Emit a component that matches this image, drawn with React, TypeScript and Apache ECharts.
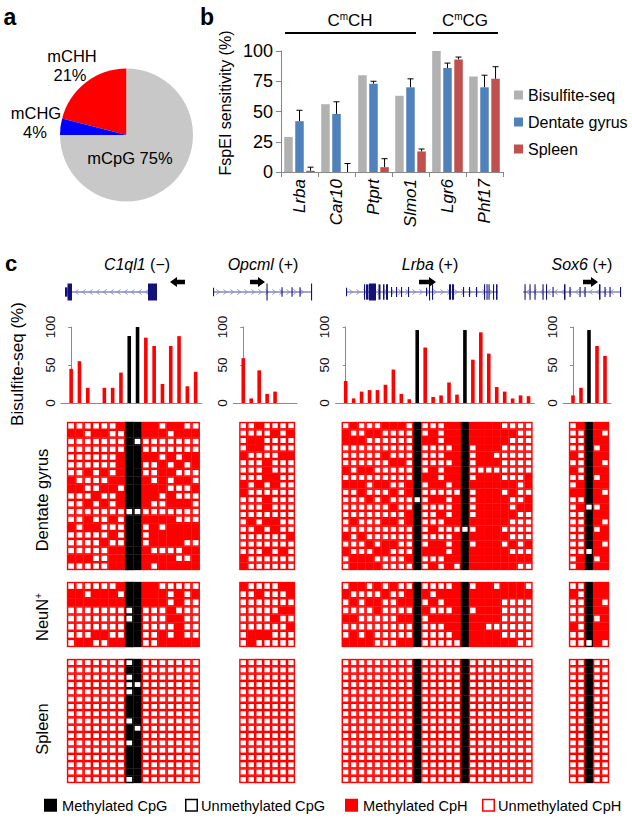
import React, { useEffect, useRef } from 'react';
import * as echarts from 'echarts';

const FONT = '"Liberation Sans", Arial, Helvetica, sans-serif';

// ---------- Panel a: pie ----------
const pieNames = ['mCHH', 'mCHG', 'mCpG'];
const pieValues = [21, 4, 75];
const pieColors = ['#ff0000', '#0000ff', '#c8c8c8'];

// ---------- Panel b: FspEI sensitivity ----------
const bCategories = ['Lrba', 'Car10', 'Ptprt', 'Slmo1', 'Lgr6', 'Phf17'];
const bSeriesNames = ['Bisulfite-seq', 'Dentate gyrus', 'Spleen'];
const bisulfiteSeq = [29, 56, 80, 63, 100, 79];
const dentateGyrus = [42, 48, 73, 70, 86, 70];
const dentateErr = [9, 10, 2, 7, 4, 10];
const spleenB = [1, 0, 4, 17, 93, 77];
const spleenErr = [3, 7, 7, 2, 2, 10];
const bColors = ['#b1b1b1', '#4f81bd', '#c0504d'];
const bTickMax = 100;
const bTickStep = 25;

// ---------- Panel c ----------
const geneNames = ['C1ql1', 'Opcml', 'Lrba', 'Sox6'];
const geneStrands = ['−', '+', '+', '+'];
const bsC1ql1 = [45, 55, 20, 0, 20, 20, 40, 88, 100, 86, 75, 25, 75, 88, 22, 41];
const bsOpcml = [59, 6, 43, 12, 15, 0, 0];
const bsLrba = [29, 6, 15, 17, 17, 24, 44, 12, 5, 96, 73, 8, 10, 27, 11, 96, 57, 93, 65, 21, 15, 6, 10, 9];
const bsSox6 = [10, 20, 96, 75, 62];
const bsTicks = [0, 50, 100];

// gene models: [start, end, relative height] in track units; direction of chevrons
const exonsC1ql1 = [[0, 2.5, 0.55], [2.5, 7, 1], [83, 92, 1]];
const exonsOpcml = [[0, 0.8, 0.5], [53.5, 54.5, 1], [68.5, 69.3, 0.55], [78.5, 79.3, 0.55], [86.5, 87.3, 0.55], [98, 99, 1]];
const exonsLrba = [[0, 0.8, 0.5], [18, 19, 0.9], [20, 22.5, 0.9], [23, 30, 1], [32.5, 34.5, 0.9], [37, 38.5, 0.9], [40, 42, 0.9], [45, 46, 0.6], [50, 51, 0.6], [55, 56, 0.6], [62, 63, 0.6], [80, 81, 0.5], [83, 84, 1], [86, 87, 0.9], [103, 105, 0.9], [106, 108, 0.9], [117, 118, 0.6], [123, 124, 0.6], [130, 131, 0.6], [138, 139, 0.9], [140.5, 141.5, 0.9], [142.5, 143.5, 0.9], [147, 148, 0.9], [150, 151.5, 0.9]];
const exonsSox6 = [[1.5, 2.5, 0.9], [6.5, 7.5, 0.9], [11.5, 12.5, 0.9], [19.5, 20.5, 0.9], [23, 24, 0.9], [29.5, 30.5, 0.6], [41, 42.5, 0.9], [46.5, 47.5, 0.6], [56.5, 57.5, 0.6], [61.5, 62.5, 0.6], [76, 77.5, 0.9], [81.5, 82.5, 0.6], [86.5, 87.5, 0.6], [97, 98, 0.6]];
const chevronDir = [-1, 1, 1, -1];
const arrowDir = [-1, 1, 1, 1];

// Clone matrices: 0 unmethylated CpH, 1 methylated CpH, b unmethylated CpG, B methylated CpG
const dgC1ql1 = [
  '0000001BB1101100',
  '1101100BB1110111',
  '0000000Bb0000000',
  '0000000BB0000000',
  '0000001BB1101011',
  '0000001BB0010101',
  '0010101BB0011000',
  '1000011BB1010110',
  '1100110BB1110001',
  '0001001BB1101000',
  '0010101BB1001110',
  '0000000bb0000000',
  '0010010BB1111000',
  '1011000BB0101111',
  '0000010BB0111111',
  '0000100BB0111100',
  '0000011BB1000011',
  '1110011BB1111001',
  '0000011BB1011111',
];
const dgOpcml = [
  '0010000', '0000101', '0110000', '0110000', '1000011', '0001000', '0001000', '0001100', '1010100', '1000000',
  '0001000', '0001000', '0000000', '0101100', '0010100', '0000001', '0000000', '0001010', '1000000', '1000000',
];
const dgLrba = [
  '010001110B00011B11110000',
  '100110000B01011B11111100',
  '111000000B11011B11111000',
  '000000000B00001B01110000',
  '000001000B00011B01100000',
  '000000110B00001B01110000',
  '101100000B01011B00000000',
  '000000000B11011B01110001',
  '111011001B01101B11111101',
  '001000101B00000B01110100',
  '000101000b01101B01111001',
  '000000100B00001B01111011',
  '000000001B00101B01111100',
  '010001101B00011B11111000',
  '000000000B01000b01110000',
  '101000000B00001B11111000',
  '000101100B01101B01110101',
  '100011000B11101B11111000',
  '011100001B00011B11111111',
  '011110000B01010B11111100',
];
const dgSox6 = [
  '01B11', '00B10', '00B11', '00B01', '10B11', '00B10', '10B11', '00B01', '01B11', '11B10',
  '00B11', '01b01', '00B11', '00B10', '00B01', '00B11', '00B10', '00b11', '01B01', '01B11',
];
const nnC1ql1 = [
  '0000001BB1100000',
  '1101110BB1110101',
  '1111111BB1110100',
  '0000000bB0001000',
  '0000000bB0001100',
  '0000000BB0000100',
  '0001100BB0010100',
  '0110011BB0011111',
];
const nnOpcml = ['1000011', '0010001', '0000000', '0000011', '0000100', '0000001', '0111000', '0100000'];
const nnLrba = [
  '011010100B00001B01101110',
  '100001001B10111B11111111',
  '010110011B01011B11110000',
  '000010000B10001B01110000',
  '110000011B01111B11110000',
  '000000000B00011B11000000',
  '010100000B00001B11110000',
  '111100011B00000B11111100',
];
const nnSox6 = ['00B11', '10B11', '00B10', '00B11', '00B01', '10B11', '00B11', '00b10'];
const spC1ql1 = [
  '0000000bB0000000', '0000000BB0000000', '0000000bB0000000', '0000000bb0000000', '0000000bB0000000',
  '0000000BB0000000', '0000000BB0000000', '0000000BB0000000', '0000000bB0000000', '0000000Bb0000000',
  '0000000BB0000000', '0000000bB0000000', '0000000BB0000000', '0000000BB0000000', '0000000BB0000000',
  '0000000BB0000000', '0000000bB0000000',
];
const spOpcml = [
  '0000000', '0000000', '0000000', '0000000', '0000000', '0000000', '0000000', '0000000', '0000000',
  '0000000', '0000000', '0000000', '0000000', '0000000', '0000000', '0000000', '0000000',
];
const spLrba = [
  '000000000B00000B00000000', '000000000B00000B00000000', '000000000B00000B00000000', '000000000B00000B00000000',
  '000000000B00000B00000000', '000000000B00000B00000000', '000000000B00000B00000000', '000000000B00000B00000000',
  '000000000B00000B00000000', '000000000B00000B00000000', '000000000B00000B00000000', '000000000B00000B00000000',
  '000000000B00000B00000000', '000000000B00000B00000000', '000000000B00000B00000000', '000000000B00000B00000000',
  '000000000B00000B00000000',
];
const spSox6 = [
  '00B00', '00B00', '00B00', '00B00', '00B00', '00B00', '00B00', '00B00', '00B00',
  '00B00', '00B00', '00B00', '00B00', '00B00', '00B00', '00B00', '00B00',
];

const legendCNames = ['Methylated CpG', 'Unmethylated CpG', 'Methylated CpH', 'Unmethylated CpH'];

// ---------- Layout (pixels) ----------
const L = {
  pie: { cx: 126.5, cy: 135, r: 66.5 },
  b: { left: 281, top: 51, width: 222, height: 121 },
  genes: [
    { gx: 67, w: 8.3, track: 65, len: 92, arrow: [170, 185], name: 137 },
    { gx: 239.3, w: 7.95, track: 213, len: 99, arrow: [250, 265], name: 263 },
    { gx: 341.7, w: 7.95, track: 346, len: 152, arrow: [419, 436], name: 430 },
    { gx: 569, w: 8.0, track: 523, len: 98, arrow: [583, 598], name: 582 },
  ],
  trackY: 292,
  arrowY: 282,
  bs: { top: 327, height: 76 },
  tissues: [
    { top: 422, bottom: 570 },
    { top: 582, bottom: 647 },
    { top: 659, bottom: 783 },
  ],
};

const bsData = [bsC1ql1, bsOpcml, bsLrba, bsSox6];
const matrices = [
  [dgC1ql1, dgOpcml, dgLrba, dgSox6],
  [nnC1ql1, nnOpcml, nnLrba, nnSox6],
  [spC1ql1, spOpcml, spLrba, spSox6],
];
const exonSets = [exonsC1ql1, exonsOpcml, exonsLrba, exonsSox6];

function matrixToData(rows: string[]) {
  const out: number[][] = [];
  rows.forEach((r, ri) => {
    r.split('').forEach((ch, ci) => {
      const st = ch === '1' ? 1 : ch === 'b' ? 2 : ch === 'B' ? 3 : 0;
      out.push([ci, ri, st]);
    });
  });
  return out;
}

function cellRender(_p: any, api: any) {
  const col = api.value(0);
  const row = api.value(1);
  const st = api.value(2);
  const c = api.coord([col, row]);
  const s = api.size([1, 1]);
  const w = s[0];
  const h = s[1];
  const x = c[0] - w / 2;
  const y = c[1] - h / 2;
  const edge = st >= 2 ? '#000000' : '#ff0000';
  const children: any[] = [
    { type: 'rect', shape: { x: x - 0.15, y: y - 0.15, width: w + 0.3, height: h + 0.3 }, style: { fill: edge } },
  ];
  if (st === 0 || st === 2) {
    const ix = 1.3;
    const iy = 1.25;
    children.push({ type: 'rect', shape: { x: x + ix, y: y + iy, width: w - 2 * ix, height: h - 2 * iy }, style: { fill: '#ffffff' } });
  }
  return { type: 'group', children };
}

function buildOption() {
  const grids: any[] = [];
  const xAxes: any[] = [];
  const yAxes: any[] = [];
  const series: any[] = [];
  const graphics: any[] = [];

  const addGrid = (g: any, x: any, y: any) => {
    const idx = grids.length;
    grids.push({ ...g, outerBoundsMode: 'none', containLabel: false });
    xAxes.push({ ...x, gridIndex: idx });
    yAxes.push({ ...y, gridIndex: idx });
    return idx;
  };
  const hiddenAxis = (min: number, max: number, inverse = false) => ({
    type: 'value', min, max, inverse, show: false, splitLine: { show: false },
  });

  // Pie
  series.push({
    type: 'pie',
    center: [L.pie.cx, L.pie.cy],
    radius: L.pie.r,
    startAngle: 90,
    clockwise: false,
    silent: true,
    label: { show: false },
    labelLine: { show: false },
    itemStyle: { borderWidth: 0 },
    emphasis: { disabled: true },
    data: pieNames.map((n, i) => ({ name: n, value: pieValues[i], itemStyle: { color: pieColors[i] } })),
  });

  // Panel b
  const bi = addGrid(
    { left: L.b.left, top: L.b.top, width: L.b.width, height: L.b.height },
    {
      type: 'category', data: bCategories,
      axisLine: { show: true, lineStyle: { color: '#868686', width: 1 } },
      axisTick: { show: true, length: 5, lineStyle: { color: '#868686' } },
      axisLabel: { rotate: 90, fontStyle: 'italic', fontSize: 17, color: '#000', fontFamily: FONT, margin: 7 },
    },
    {
      type: 'value', min: 0, max: bTickMax, interval: bTickStep,
      axisLine: { show: true, lineStyle: { color: '#868686', width: 1 } },
      axisTick: { show: true, length: 5, lineStyle: { color: '#868686' } },
      axisLabel: { fontSize: 18, color: '#000', fontFamily: FONT, margin: 8 },
      splitLine: { show: false },
    },
  );
  [bisulfiteSeq, dentateGyrus, spleenB].forEach((vals, k) => {
    series.push({
      type: 'bar', name: bSeriesNames[k], xAxisIndex: bi, yAxisIndex: bi,
      data: vals, barWidth: 8.5, barGap: '30%', itemStyle: { color: bColors[k] }, silent: true,
    });
  });
  const barStep = 8.5 * 1.3;
  [[dentateGyrus, dentateErr, 0], [spleenB, spleenErr, barStep]].forEach(([vals, errs, off]: any) => {
    series.push({
      type: 'custom', xAxisIndex: bi, yAxisIndex: bi, silent: true, clip: false,
      data: vals.map((v: number, i: number) => [i, v, errs[i]]),
      renderItem: (_p: any, api: any) => {
        const base = api.coord([api.value(0), api.value(1)]);
        const top = api.coord([api.value(0), api.value(1) + api.value(2)]);
        const x = base[0] + off;
        return {
          type: 'group',
          children: [
            { type: 'line', shape: { x1: x, y1: base[1], x2: x, y2: top[1] }, style: { stroke: '#000', lineWidth: 1 } },
            { type: 'line', shape: { x1: x - 3, y1: top[1], x2: x + 3, y2: top[1] }, style: { stroke: '#000', lineWidth: 1 } },
          ],
        };
      },
    });
  });

  // Panel c: gene tracks, bisulfite bars and matrices
  L.genes.forEach((g, gi) => {
    // gene track
    const ti = addGrid(
      { left: g.track, top: L.trackY - 10, width: g.len, height: 20 },
      hiddenAxis(0, g.len),
      hiddenAxis(-1, 1),
    );
    const dir = chevronDir[gi];
    series.push({
      type: 'custom', xAxisIndex: ti, yAxisIndex: ti, silent: true, clip: false,
      data: [[0, g.len]],
      renderItem: (_p: any, api: any) => {
        const a = api.coord([api.value(0), 0]);
        const b = api.coord([api.value(1), 0]);
        const children: any[] = [
          { type: 'line', shape: { x1: a[0], y1: a[1], x2: b[0], y2: b[1] }, style: { stroke: '#4a4aa8', lineWidth: 1 } },
        ];
        for (let x = a[0] + 5; x < b[0] - 3; x += 7) {
          children.push({
            type: 'polyline',
            shape: { points: [[x - 1.6 * dir, a[1] - 2.6], [x + 1.6 * dir, a[1]], [x - 1.6 * dir, a[1] + 2.6]] },
            style: { stroke: '#8585cc', lineWidth: 0.9, fill: 'none' },
          });
        }
        return { type: 'group', children };
      },
    });
    series.push({
      type: 'custom', xAxisIndex: ti, yAxisIndex: ti, silent: true, clip: false,
      data: exonSets[gi],
      renderItem: (_p: any, api: any) => {
        const a = api.coord([api.value(0), 0]);
        const b = api.coord([api.value(1), 0]);
        const hh = 8.5 * api.value(2);
        return {
          type: 'rect',
          shape: { x: a[0], y: a[1] - hh, width: Math.max(1.1, b[0] - a[0]), height: hh * 2 },
          style: { fill: '#12127a' },
        };
      },
    });

    // bisulfite bars
    const vals = bsData[gi];
    const n = vals.length;
    const padL = 6;
    const padR = 2;
    const bsi = addGrid(
      { left: g.gx - padL, top: L.bs.top, width: n * g.w + padL + padR, height: L.bs.height },
      {
        type: 'value', min: -0.5 - padL / g.w, max: n - 0.5 + padR / g.w, show: true,
        axisLine: { show: true, onZero: false, lineStyle: { color: '#8c8c8c', width: 1 } },
        axisTick: { show: false }, axisLabel: { show: false }, splitLine: { show: false },
      },
      {
        type: 'value', min: 0, max: 100, interval: 50,
        axisLine: { show: true, lineStyle: { color: '#8c8c8c', width: 1 } },
        axisTick: { show: true, length: 3, lineStyle: { color: '#8c8c8c' } },
        axisLabel: { rotate: 90, fontSize: 13.5, color: '#111', fontFamily: FONT, margin: 4, customValues: bsTicks },
        splitLine: { show: false },
      },
    );
    const cpgCols = matrices[0][gi][0].split('').map((ch) => ch === 'B' || ch === 'b');
    series.push({
      type: 'bar', xAxisIndex: bsi, yAxisIndex: bsi, silent: true, barWidth: 3.6,
      data: vals.map((v, i) => ({ value: [i, v], itemStyle: { color: cpgCols[i] ? '#000000' : '#ff0000' } })),
    });

    // matrices
    L.tissues.forEach((t, k) => {
      const rows = matrices[k][gi];
      const nr = rows.length;
      const nc = rows[0].length;
      const mi = addGrid(
        { left: g.gx, top: t.top, width: nc * g.w, height: t.bottom - t.top },
        hiddenAxis(-0.5, nc - 0.5),
        hiddenAxis(-0.5, nr - 0.5, true),
      );
      series.push({
        type: 'custom', xAxisIndex: mi, yAxisIndex: mi, silent: true, clip: false,
        data: matrixToData(rows), renderItem: cellRender,
      });
    });

    // gene name
    graphics.push({
      type: 'text', x: g.name, y: 264, z: 100,
      style: {
        text: `{i|${geneNames[gi]}} (${geneStrands[gi]})`,
        rich: { i: { fontStyle: 'italic', fontSize: 16, fontFamily: FONT, fill: '#000' } },
        fontSize: 16, fontFamily: FONT, fill: '#000',
        align: 'center', verticalAlign: 'middle', textAlign: 'center', textVerticalAlign: 'middle',
      },
    });
    // direction arrow
    const [ax0, ax1] = g.arrow;
    const d = arrowDir[gi];
    const tip = d > 0 ? ax1 : ax0;
    const tail = d > 0 ? ax0 : ax1;
    const neck = tip - d * 7;
    const y0 = L.arrowY;
    graphics.push({
      type: 'polygon', z: 100,
      shape: { points: [[tail, y0 - 2.2], [neck, y0 - 2.2], [neck, y0 - 5], [tip, y0], [neck, y0 + 5], [neck, y0 + 2.2], [tail, y0 + 2.2]] },
      style: { fill: '#000' },
    });
  });

  const txt = (text: string, x: number, y: number, size: number, extra: any = {}) => ({
    type: 'text', x, y, z: 100, rotation: extra.rotation || 0,
    style: {
      text, fontSize: size, fontFamily: FONT, fill: '#000',
      fontWeight: extra.bold ? 'bold' : 'normal',
      align: extra.align || 'center', verticalAlign: 'middle',
      textAlign: extra.align || 'center', textVerticalAlign: 'middle',
      rich: extra.rich,
    },
  });
  const sup = { sup: { fontSize: 10, fontFamily: FONT, fill: '#000', verticalAlign: 'top', lineHeight: 18 } };

  graphics.push(txt('a', 10, 17, 23, { bold: true }));
  graphics.push(txt('b', 207, 17, 23, { bold: true }));
  graphics.push(txt('c', 11, 263, 22, { bold: true }));
  graphics.push(txt('mCHH', 72, 56, 16.5));
  graphics.push(txt('21%', 70, 75, 16.5));
  graphics.push(txt('mCHG', 36, 113, 16.5));
  graphics.push(txt('4%', 35, 132, 16.5));
  graphics.push(txt('mCpG 75%', 130, 158, 16.5));

  graphics.push(txt('C{sup|m}CH', 350, 20, 17, { rich: sup }));
  graphics.push(txt('C{sup|m}CG', 465, 20, 17, { rich: sup }));
  graphics.push({ type: 'line', z: 100, shape: { x1: 285, y1: 33, x2: 416, y2: 33 }, style: { stroke: '#000', lineWidth: 2 } });
  graphics.push({ type: 'line', z: 100, shape: { x1: 433, y1: 33, x2: 498, y2: 33 }, style: { stroke: '#000', lineWidth: 2 } });
  graphics.push(txt('FspEI sensitivity (%)', 225, 103, 16, { rotation: Math.PI / 2 }));

  graphics.push(txt('Bisulfite-seq (%)', 17, 364, 17, { rotation: Math.PI / 2 }));
  graphics.push(txt('Dentate gyrus', 42, 500, 16.5, { rotation: Math.PI / 2 }));
  graphics.push(txt('NeuN{sup|+}', 42, 617, 16.5, { rotation: Math.PI / 2, rich: sup }));
  graphics.push(txt('Spleen', 42, 729, 16.5, { rotation: Math.PI / 2 }));

  // Panel c legend
  const legY = 805;
  const legX = [44, 185, 345, 482];
  const legFill = ['#000000', '#ffffff', '#ff0000', '#ffffff'];
  const legStroke = ['#000000', '#000000', '#ff0000', '#ff0000'];
  legendCNames.forEach((nm, i) => {
    graphics.push({
      type: 'rect', z: 100, shape: { x: legX[i] + 0.75, y: legY - 5.5, width: 11.5, height: 11.5 },
      style: { fill: legFill[i], stroke: legStroke[i], lineWidth: 1.5 },
    });
    graphics.push(txt(nm, legX[i] + (i === 0 || i === 2 ? 18 : 16), legY + 1, 14.6, { align: 'left' }));
  });

  return {
    animation: false,
    backgroundColor: '#ffffff',
    textStyle: { fontFamily: FONT },
    grid: grids,
    xAxis: xAxes,
    yAxis: yAxes,
    legend: {
      data: bSeriesNames, orient: 'vertical', left: 509, top: 82, itemWidth: 9, itemHeight: 9, itemGap: 11,
      icon: 'rect', selectedMode: false,
      textStyle: { fontSize: 16, color: '#000', fontFamily: FONT },
    },
    series,
    graphic: { elements: graphics },
  };
}

export default function App() {
  const ref = useRef<HTMLDivElement>(null);
  useEffect(() => {
    document.body.style.margin = '0';
    const chart = echarts.init(ref.current as HTMLDivElement, undefined, { renderer: 'svg' });
    chart.setOption(buildOption() as any);
    return () => chart.dispose();
  }, []);
  return <div ref={ref} style={{ width: 632, height: 820, background: '#fff' }} />;
}
